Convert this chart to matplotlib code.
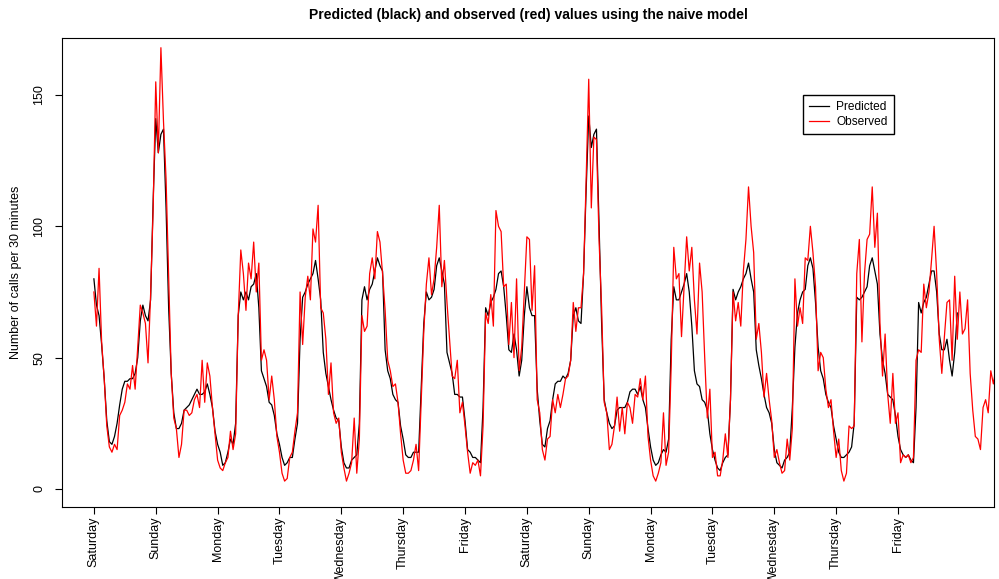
import numpy as np
import matplotlib.pyplot as plt

plt.rcParams['font.family'] = ['Liberation Sans', 'DejaVu Sans']

# hourly readings, one row per day, starting Saturday 00:00
predicted = [
    [80, 70, 66, 55, 42, 26, 18, 17, 20, 25, 32, 38, 41, 41, 42, 42, 44, 50, 64, 70, 66, 64, 72, 110],
    [141, 128, 135, 137, 107, 69, 44, 29, 23, 23, 25, 30, 31, 32, 34, 36, 38, 36, 36, 37, 40, 36, 31, 22],
    [17, 14, 9, 10, 14, 19, 17, 25, 66, 75, 72, 75, 72, 77, 78, 82, 69, 45, 42, 39, 33, 32, 28, 21],
    [17, 12, 9, 10, 12, 12, 19, 25, 57, 73, 75, 78, 80, 82, 87, 80, 72, 52, 44, 39, 34, 30, 27, 26],
    [16, 10, 8, 8, 11, 12, 13, 25, 72, 77, 72, 76, 78, 83, 88, 85, 83, 53, 45, 42, 36, 34, 33, 24],
    [19, 13, 12, 12, 14, 14, 14, 38, 63, 75, 72, 73, 76, 85, 88, 83, 78, 52, 48, 44, 36, 36, 35, 35],
    [26, 15, 14, 12, 12, 11, 10, 31, 69, 66, 71, 73, 76, 82, 83, 77, 66, 53, 52, 59, 53, 43, 49, 66],
    [77, 69, 66, 66, 38, 26, 17, 16, 23, 26, 34, 40, 41, 41, 43, 42, 44, 49, 66, 69, 64, 63, 82, 114],
    [142, 130, 135, 137, 101, 63, 34, 29, 25, 23, 24, 30, 31, 31, 31, 33, 37, 38, 38, 36, 39, 34, 31, 23],
    [16, 11, 9, 10, 13, 15, 14, 19, 57, 77, 72, 72, 75, 78, 82, 75, 62, 45, 40, 39, 34, 33, 30, 21],
    [15, 11, 8, 7, 10, 12, 13, 34, 76, 72, 75, 77, 80, 82, 86, 80, 75, 53, 47, 42, 36, 31, 29, 25],
    [15, 10, 9, 8, 11, 12, 14, 31, 54, 67, 72, 75, 76, 85, 88, 84, 71, 54, 45, 42, 36, 33, 31, 24],
    [19, 14, 12, 12, 13, 14, 16, 25, 73, 72, 73, 75, 77, 85, 88, 83, 78, 59, 49, 44, 36, 35, 34, 28],
    [20, 15, 13, 12, 13, 11, 10, 31, 71, 67, 71, 73, 78, 83, 83, 75, 59, 53, 53, 57, 49, 43, 52, 67],
]

observed = [
    [75, 62, 84, 56, 42, 24, 16, 14, 17, 15, 28, 30, 33, 40, 38, 47, 38, 54, 70, 67, 63, 48, 74, 107],
    [155, 128, 168, 140, 118, 81, 44, 27, 23, 12, 17, 30, 30, 28, 29, 34, 36, 31, 49, 33, 48, 43, 31, 21],
    [11, 8, 7, 10, 12, 22, 15, 21, 66, 91, 82, 68, 86, 80, 94, 75, 86, 49, 53, 49, 34, 43, 34, 20],
    [14, 6, 3, 4, 12, 14, 22, 29, 75, 55, 73, 81, 72, 99, 94, 108, 69, 67, 57, 36, 48, 29, 25, 27],
    [14, 8, 3, 6, 10, 27, 6, 19, 66, 60, 62, 82, 88, 80, 98, 94, 82, 68, 49, 45, 39, 40, 33, 21],
    [11, 6, 6, 7, 11, 17, 7, 34, 60, 78, 88, 74, 80, 92, 108, 77, 87, 71, 57, 43, 42, 49, 29, 33],
    [24, 14, 6, 10, 9, 11, 5, 24, 67, 63, 74, 62, 106, 100, 98, 77, 78, 55, 71, 50, 80, 45, 54, 75],
    [96, 95, 68, 85, 34, 29, 15, 11, 19, 20, 34, 29, 36, 31, 36, 42, 43, 49, 71, 60, 69, 69, 82, 118],
    [156, 107, 134, 133, 95, 69, 33, 29, 15, 17, 24, 35, 22, 31, 21, 33, 31, 25, 36, 35, 42, 34, 43, 20],
    [11, 5, 3, 6, 10, 29, 9, 14, 47, 92, 80, 82, 58, 77, 96, 83, 92, 72, 59, 86, 75, 50, 27, 38],
    [12, 14, 5, 5, 11, 21, 12, 34, 75, 64, 71, 62, 83, 95, 115, 100, 90, 57, 63, 52, 35, 44, 34, 26],
    [12, 15, 10, 6, 7, 19, 11, 23, 80, 62, 69, 63, 88, 87, 100, 90, 77, 45, 52, 50, 38, 31, 34, 22],
    [12, 19, 7, 3, 6, 24, 23, 24, 82, 95, 56, 82, 95, 97, 115, 92, 105, 63, 43, 59, 36, 25, 44, 25],
    [29, 10, 13, 12, 13, 10, 12, 49, 53, 52, 78, 69, 75, 87, 100, 82, 57, 44, 58, 71, 72, 49, 81, 57],
    [75, 59, 61, 72, 44, 30, 20, 19, 15, 31, 34, 29, 45, 40, 46, 44],
]

days = ["Saturday", "Sunday", "Monday", "Tuesday", "Wednesday", "Thursday", "Friday"] * 2

pred = np.concatenate(predicted)
obs = np.concatenate(observed)
# x axis counts half-hour slots
x_pred = np.arange(len(pred)) * 2
x_obs = np.arange(len(obs)) * 2

fig = plt.figure(figsize=(9.99, 5.79), dpi=100)
ax = fig.add_axes([0.062, 0.1244, 0.933, 0.81])

ax.plot(x_pred, pred, color="black", lw=0.9, label="Predicted")
ax.plot(x_obs, obs, color="red", lw=0.9, label="Observed")

ax.set_xlim(-24.8, 698.5)
ax.set_ylim(-6.85, 171.7)

ax.set_xticks(np.arange(len(days)) * 48)
ax.set_xticklabels(days, rotation=90, va="top", fontsize=9)
ax.set_yticks([0, 50, 100, 150])
ax.set_yticklabels(["0", "50", "100", "150"], rotation=90, va="center", fontsize=9)
ax.tick_params(length=5, width=0.8, pad=2)
ax.tick_params(axis="y", pad=7)
for s in ax.spines.values():
    s.set_linewidth(0.8)

ax.set_ylabel("Number of calls per 30 minutes", fontsize=9, labelpad=8)
ax.set_title("Predicted (black) and observed (red) values using the naive model",
             fontsize=10, fontweight="bold", pad=14)

ax.legend(loc="upper left", bbox_to_anchor=(0.795, 0.878), fontsize=8.6,
          fancybox=False, edgecolor="black", framealpha=1, handlelength=1.7,
          handletextpad=0.6, borderpad=0.5, labelspacing=0.25, borderaxespad=0)

fig.savefig("out.png", dpi=100)
